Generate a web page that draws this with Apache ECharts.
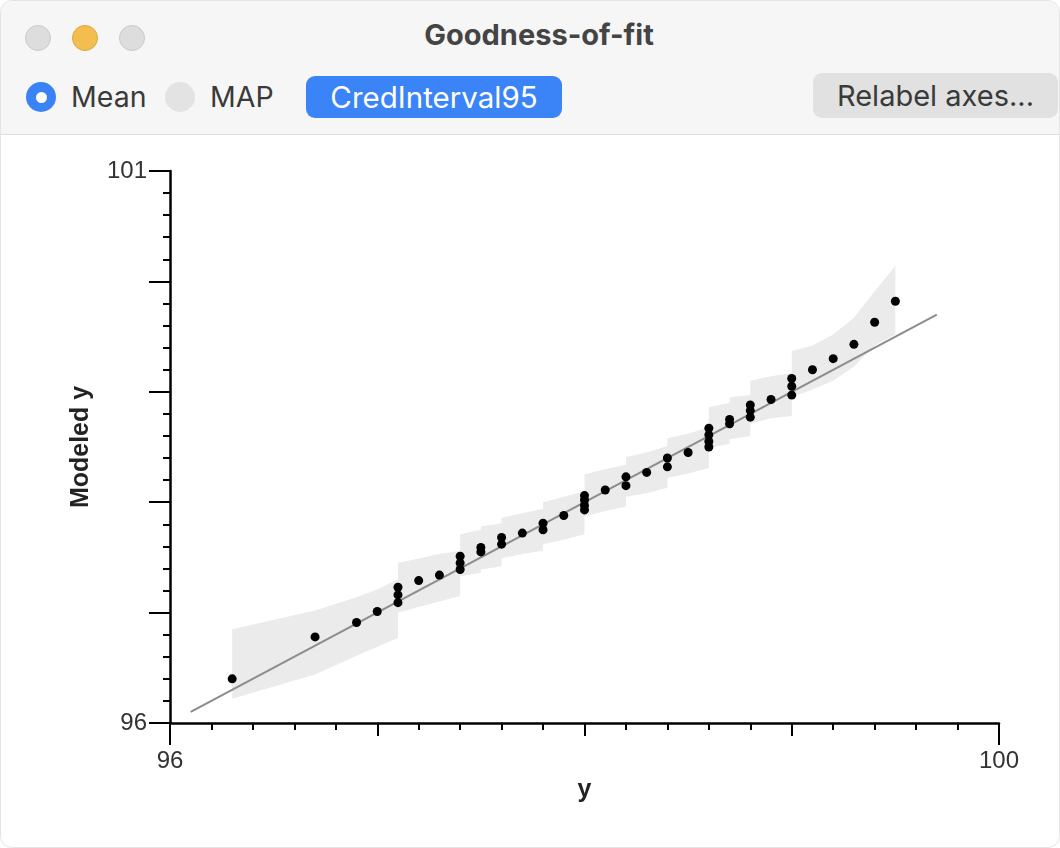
<!DOCTYPE html>
<html>
<head>
<meta charset="utf-8">
<title>Goodness-of-fit</title>
<script src="https://cdn.jsdelivr.net/npm/echarts@6/dist/echarts.min.js"></script>
<style>
  html, body { margin: 0; padding: 0; background: #ffffff; }
  body { width: 1060px; height: 848px; position: relative; overflow: hidden; font-family: "Inter", "Roboto", sans-serif; }
  #win { position: absolute; left: 0; top: 0; width: 1058px; height: 846px; border: 1px solid #e4e4e4; border-radius: 12px; overflow: hidden; background: #fff; }
  #bar { position: absolute; left: 0; top: 0; width: 100%; height: 133px; background: #f6f6f6; border-bottom: 1px solid #dedede; z-index: 2; }
  .light { position: absolute; top: 24px; width: 26px; height: 26px; border-radius: 50%; box-sizing: border-box; }
  .grey { background: #dddddd; border: 1px solid #c9c9c9; }
  .yellow { background: #f4bd4f; border: 1px solid #dfa43c; }
  #title { position: absolute; top: 16px; left: 0; width: 1076px; text-align: center; font-weight: 700; font-size: 29px; color: #444; }
  .radio { position: absolute; top: 81px; width: 30px; height: 30px; border-radius: 50%; box-sizing: border-box; }
  .radio.on { background: #3a83f6; }
  .radio.on::after { content: ""; position: absolute; left: 9.5px; top: 9.5px; width: 11px; height: 11px; border-radius: 50%; background: #fff; }
  .radio.off { background: #e3e3e3; }
  .lbl { position: absolute; top: 78px; font-size: 28.5px; color: #3a3a3a; }
  .btn { position: absolute; box-sizing: border-box; border-radius: 9px; text-align: center; font-size: 29px; }
  #cred { left: 305px; top: 75px; width: 256px; height: 42px; line-height: 42px; background: #3b84f7; color: #fff; font-size: 29.5px; }
  #relabel { left: 812px; top: 72px; width: 245px; height: 45px; line-height: 45px; background: #e1e1e1; color: #3a3a3a; }
  #chart { position: absolute; left: 0; top: 0; width: 1060px; height: 848px; z-index: 1; }
</style>
</head>
<body>
<div id="win">
  <div id="chart"></div>
  <div id="bar">
    <div class="light grey" style="left:24px"></div>
    <div class="light yellow" style="left:71px"></div>
    <div class="light grey" style="left:118px"></div>
    <div id="title">Goodness-of-fit</div>
    <div class="radio on" style="left:25px"></div>
    <div class="lbl" style="left:70px">Mean</div>
    <div class="radio off" style="left:164px"></div>
    <div class="lbl" style="left:209px">MAP</div>
    <div class="btn" id="cred">CredInterval95</div>
    <div class="btn" id="relabel">Relabel axes...</div>
  </div>
</div>
<script>
// Observed y (sorted) and the modeled y for each observation
const observedY = [
  96.3, 96.7, 96.9, 97.0, 97.1, 97.1, 97.1, 97.2, 97.3, 97.4,
  97.4, 97.4, 97.5, 97.5, 97.6, 97.6, 97.7, 97.8, 97.8, 97.9,
  98.0, 98.0, 98.0, 98.0, 98.1, 98.2, 98.2, 98.3, 98.4, 98.4,
  98.5, 98.6, 98.6, 98.6, 98.6, 98.7, 98.7, 98.8, 98.8, 98.8,
  98.9, 99.0, 99.0, 99.0, 99.1, 99.2, 99.3, 99.4, 99.5
];
const modeledY = [
  96.40, 96.78, 96.91, 97.01, 97.09, 97.16, 97.23, 97.29, 97.34, 97.39,
  97.45, 97.51, 97.55, 97.59, 97.62, 97.68, 97.72, 97.75, 97.81, 97.88,
  97.93, 97.97, 98.02, 98.06, 98.11, 98.15, 98.23, 98.27, 98.32, 98.40,
  98.45, 98.50, 98.55, 98.61, 98.67, 98.71, 98.75, 98.77, 98.83, 98.88,
  98.93, 98.97, 99.05, 99.12, 99.20, 99.30, 99.43, 99.63, 99.82
];
// 95% credible interval bounds for each modeled value
const credLower = [
  96.22, 96.44, 96.61, 96.69, 96.77, 96.88, 97.00, 97.05, 97.10, 97.15,
  97.25, 97.33, 97.36, 97.39, 97.42, 97.49, 97.53, 97.56, 97.62, 97.66,
  97.71, 97.76, 97.82, 97.87, 97.92, 97.96, 98.05, 98.08, 98.13, 98.22,
  98.26, 98.31, 98.37, 98.43, 98.49, 98.53, 98.57, 98.60, 98.66, 98.71,
  98.76, 98.78, 98.87, 98.95, 99.02, 99.10, 99.23, 99.42, 99.52
];
const credUpper = [
  96.85, 97.02, 97.14, 97.21, 97.30, 97.38, 97.45, 97.49, 97.53, 97.56,
  97.64, 97.71, 97.75, 97.78, 97.81, 97.86, 97.90, 97.94, 98.00, 98.05,
  98.10, 98.15, 98.20, 98.25, 98.30, 98.34, 98.41, 98.45, 98.51, 98.58,
  98.62, 98.68, 98.74, 98.80, 98.86, 98.90, 98.95, 98.97, 99.04, 99.10,
  99.14, 99.17, 99.28, 99.37, 99.42, 99.52, 99.67, 99.91, 100.14
];
// End points of the y = x reference line
const refLineEnds = [96.1, 99.7];
// Axis ranges; only the end values are labelled
const xRange = [96, 100];
const yRange = [96, 101];

const AXIS_FONT = '"Liberation Sans", Arial, sans-serif';
const chart = echarts.init(document.getElementById('chart'), null, { renderer: 'canvas' });

// Credible band: one polygon along the upper bounds and back along the lower bounds
const bandSeries = {
  type: 'custom',
  xAxisIndex: 0,
  yAxisIndex: 0,
  silent: true,
  z: 1,
  data: [[observedY[0], credLower[0]]],
  renderItem: function (params, api) {
    const upper = observedY.map((x, i) => api.coord([x, credUpper[i]]));
    const lower = observedY.map((x, i) => api.coord([x, credLower[i]])).reverse();
    return {
      type: 'polygon',
      shape: { points: upper.concat(lower) },
      style: { fill: '#ebebeb', stroke: null }
    };
  }
};

chart.setOption({
  backgroundColor: 'transparent',
  animation: false,
  grid: { left: 169, right: 62, top: 170, bottom: 126, containLabel: false },
  xAxis: [
    {
      type: 'value', position: 'bottom', min: xRange[0], max: xRange[1], interval: 4,
      name: 'y', nameLocation: 'middle', nameGap: 52,
      nameTextStyle: { fontFamily: AXIS_FONT, fontWeight: 'bold', fontSize: 25, color: '#222' },
      axisLine: { show: true, onZero: false, lineStyle: { color: '#000', width: 2.5 } },
      axisTick: { show: true, length: 22, lineStyle: { color: '#000', width: 2 } },
      axisLabel: { show: true, margin: 26, fontFamily: AXIS_FONT, fontSize: 24, color: '#333' },
      splitLine: { show: false }
    },
    {
      type: 'value', position: 'bottom', min: xRange[0], max: xRange[1], interval: 1,
      axisLine: { show: false, onZero: false },
      axisTick: { show: true, length: 13, lineStyle: { color: '#000', width: 2 } },
      minorTick: { show: true, splitNumber: 5, length: 7, lineStyle: { color: '#000', width: 2 } },
      axisLabel: { show: false },
      splitLine: { show: false }
    }
  ],
  yAxis: {
    type: 'value', min: yRange[0], max: yRange[1], interval: 1,
    name: 'Modeled y', nameLocation: 'middle', nameGap: 76, nameRotate: 90,
    nameTextStyle: { fontFamily: AXIS_FONT, fontWeight: 'bold', fontSize: 25, color: '#222' },
    axisLine: { show: true, onZero: false, lineStyle: { color: '#000', width: 2.5 } },
    axisTick: { show: true, length: 21, lineStyle: { color: '#000', width: 2 } },
    minorTick: { show: true, splitNumber: 5, length: 7, lineStyle: { color: '#000', width: 2 } },
    axisLabel: {
      show: true, margin: 23, fontFamily: AXIS_FONT, fontSize: 24, color: '#333',
      formatter: v => (v === yRange[0] || v === yRange[1]) ? String(v) : ''
    },
    splitLine: { show: false }
  },
  series: [
    bandSeries,
    {
      type: 'line', xAxisIndex: 0, yAxisIndex: 0, z: 2, silent: true,
      data: refLineEnds.map(v => [v, v]),
      symbol: 'none',
      lineStyle: { color: '#8c8c8c', width: 2 }
    },
    {
      type: 'scatter', xAxisIndex: 0, yAxisIndex: 0, z: 3,
      data: observedY.map((x, i) => [x, modeledY[i]]),
      symbol: 'circle', symbolSize: 9,
      itemStyle: { color: '#000', opacity: 1 }
    }
  ]
});
</script>
</body>
</html>
